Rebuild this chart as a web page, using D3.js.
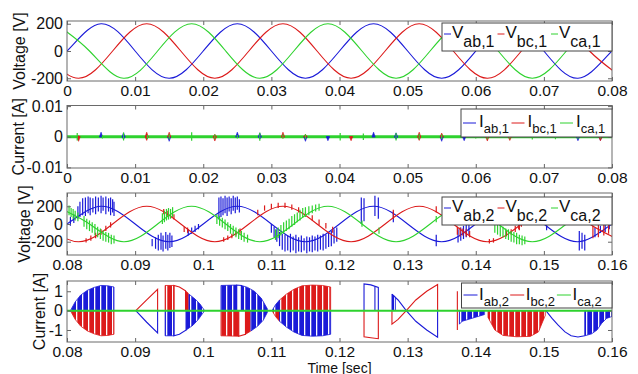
<!DOCTYPE html>
<html>
<head>
<meta charset="utf-8">
<script src="https://cdn.jsdelivr.net/npm/d3@7"></script>
<style>
  body { margin: 0; background: #fff; }
</style>
</head>
<body>
<div id="chart"></div>
<script>
// ---- ticks ----
const xTicksA = [0, 0.01, 0.02, 0.03, 0.04, 0.05, 0.06, 0.07, 0.08];
const xLabelsA = ["0", "0.01", "0.02", "0.03", "0.04", "0.05", "0.06", "0.07", "0.08"];
const xTicksB = [0.08, 0.09, 0.1, 0.11, 0.12, 0.13, 0.14, 0.15, 0.16];
const xLabelsB = ["0.08", "0.09", "0.1", "0.11", "0.12", "0.13", "0.14", "0.15", "0.16"];
const vTicks = [-200, 0, 200];
const vLabels = ["-200", "0", "200"];
const iTicks1 = [-0.01, 0, 0.01];
const iLabels1 = ["-0.01", "0", "0.01"];
const iTicks2 = [-1, 0, 1];
const iLabels2 = ["-1", "0", "1"];

// ---- panel 1 : line voltages (peaks and zero crossings) ----
const vab1 = [[-0.005,-200],[0,0],[0.005,200],[0.01,0],[0.015,-200],[0.02,0],[0.025,200],[0.03,0],[0.035,-200],[0.04,0],[0.045,200],[0.05,0],[0.055,-200],[0.06,0],[0.065,200],[0.07,0],[0.075,-200],[0.08,0],[0.085,200]];
const vbc1 = [[-0.0033,0],[0.0017,-200],[0.0067,0],[0.0117,200],[0.0167,0],[0.0217,-200],[0.0267,0],[0.0317,200],[0.0367,0],[0.0417,-200],[0.0467,0],[0.0517,200],[0.0567,0],[0.0617,-200],[0.0667,0],[0.0717,200],[0.0767,0],[0.0817,-200]];
const vca1 = [[-0.0017,200],[0.0033,0],[0.0083,-200],[0.0133,0],[0.0183,200],[0.0233,0],[0.0283,-200],[0.0333,0],[0.0383,200],[0.0433,0],[0.0483,-200],[0.0533,0],[0.0583,200],[0.0633,0],[0.0683,-200],[0.0733,0],[0.0783,200],[0.0833,0]];

// ---- panel 2 : currents, spikes [t, high, low] ----
const iab1Spikes = [[0.005,0.0015,0],[0.0083,0.0013,-0.0008],[0.015,0,-0.0015],[0.025,0.0015,0],[0.0283,0.0013,-0.0008],[0.035,0,-0.0015],[0.0383,0,-0.0013],[0.045,0.0015,0],[0.0483,0.0013,-0.0008],[0.055,0,-0.0015],[0.0583,0,-0.0013],[0.075,0,-0.0013],[0.0783,0,-0.0012]];
const ibc1Spikes = [[0.0017,0.0003,-0.0015],[0.0117,0.0015,-0.0012],[0.015,0.0015,0],[0.0217,0.0008,-0.0014],[0.0317,0.0015,-0.0005],[0.035,0.0008,0],[0.0417,0,-0.0013],[0.0517,0.0015,-0.0012],[0.055,0.0012,0],[0.0617,0,-0.0014],[0.065,0,-0.0012],[0.0783,0,-0.0013]];
const ica1Spikes = [[0.0015,0.0012,-0.0012],[0.0052,0.0006,-0.0006],[0.0083,0.0014,-0.0012],[0.0118,0.0006,-0.0007],[0.015,0.0008,-0.0008],[0.0183,0.0015,-0.0013],[0.0217,0.0007,-0.0007],[0.025,0.0006,-0.0006],[0.0283,0.0013,-0.0013],[0.0317,0.0007,-0.0006],[0.035,0.0008,-0.0008],[0.0401,0.0012,-0.0012],[0.0435,0.0011,-0.0011],[0.0483,0.0012,-0.0012],[0.0517,0.0009,-0.0009],[0.055,0.0007,-0.0007],[0.06,0.0006,-0.0006],[0.0617,0.0008,-0.0008],[0.065,0.0007,-0.0007],[0.0683,0.0009,-0.0009],[0.0717,0.0008,-0.0008],[0.075,0.0007,-0.0007],[0.0783,0.0006,-0.0006]];
const ica1 = [[0, 0], [0.08, 0]];

// ---- panel 3 : line voltages with switching spikes [t, low, high] ----
const vab2 = [[0.075,-200],[0.08,0],[0.085,200],[0.09,0],[0.095,-200],[0.1,0],[0.105,200],[0.11,0],[0.115,-200],[0.12,0],[0.125,200],[0.13,0],[0.135,-200],[0.14,0],[0.145,200],[0.15,0],[0.155,-200],[0.16,0],[0.165,200]];
const vbc2 = [[0.0767,0],[0.0817,-200],[0.0867,0],[0.0917,200],[0.0967,0],[0.1017,-200],[0.1067,0],[0.1117,200],[0.1167,0],[0.1217,-200],[0.1267,0],[0.1317,200],[0.1367,0],[0.1417,-200],[0.1467,0],[0.1517,200],[0.1567,0],[0.1617,-200]];
const vca2 = [[0.0783,200],[0.0833,0],[0.0883,-200],[0.0933,0],[0.0983,200],[0.1033,0],[0.1083,-200],[0.1133,0],[0.1183,200],[0.1233,0],[0.1283,-200],[0.1333,0],[0.1383,200],[0.1433,0],[0.1483,-200],[0.1533,0],[0.1583,200],[0.1633,0]];
const vab2Spikes = [
  [0.0805,-20,80],[0.081,10,110],[0.0816,60,200],[0.0819,80,250],[0.0823,100,290],[0.0827,90,300],[0.0831,120,310],[0.0834,100,300],[0.0838,130,290],[0.0842,110,310],[0.0846,140,300],[0.085,120,320],[0.0853,150,300],[0.0857,110,310],[0.0861,140,290],[0.0864,100,300],[0.0867,130,280],[0.0869,90,250],
  [0.0925,-250,-170],[0.093,-280,-150],[0.0934,-300,-120],[0.0938,-290,-100],[0.0941,-310,-130],[0.0945,-280,-90],[0.0948,-300,-120],[0.0951,-270,-100],[0.0954,-260,-130],
  [0.0978,-130,-60],[0.0983,-110,-40],[0.0988,-90,-20],[0.0993,-60,0],
  [0.1023,50,300],[0.1026,80,310],[0.1029,100,290],[0.1032,120,320],[0.1035,90,300],[0.1038,140,310],[0.1041,110,290],[0.1044,150,320],[0.1047,120,300],[0.105,160,310],[0.1053,130,280],
  [0.11,-100,0],[0.1104,-150,-30],[0.1108,-200,-60],[0.1112,-250,-90],[0.1116,-290,-110],[0.112,-310,-120],[0.1124,-300,-130],[0.1128,-320,-110],[0.1132,-300,-140],[0.1136,-330,-120],[0.114,-310,-150],[0.1144,-320,-130],[0.1148,-300,-160],[0.1152,-330,-140],[0.1156,-310,-150],[0.116,-320,-130],[0.1164,-300,-140],[0.1168,-310,-120],[0.1172,-290,-130],[0.1176,-300,-110],[0.118,-280,-120],[0.1184,-260,-100],[0.1188,-250,-80],[0.1192,-220,-60],[0.1196,-200,-40],
  [0.1232,0,300],[0.1236,30,290],[0.1252,90,320],[0.1257,60,300],[0.1279,20,140],[0.1342,-250,-120],
  [0.1374,-210,-60],[0.1378,-190,-40],[0.1382,-170,-20],[0.1386,-150,0],[0.139,-120,10],
  [0.1504,-70,20],[0.1552,-300,-80],[0.1556,-280,-100],[0.156,-300,-120],[0.1575,-150,-40],[0.1583,-100,-20],[0.159,-90,10],[0.1596,-60,20]
];
const vbc2Spikes = [
  [0.0828,-210,-160],[0.0835,-190,-130],[0.0842,-160,-100],[0.085,-120,-60],[0.0857,-80,-20],[0.0864,-40,20],
  [0.0942,110,170],[0.0947,90,150],[0.0952,70,130],[0.0957,50,110],[0.0972,-90,-30],[0.0977,-100,-40],
  [0.103,-200,-150],[0.1036,-180,-130],[0.1042,-160,-110],[0.1048,-130,-80],[0.1054,-110,-50],
  [0.108,100,160],[0.109,150,210],[0.11,170,230],[0.111,180,240],[0.112,180,240],[0.113,160,220],[0.114,130,190],[0.115,80,140],[0.116,40,100],[0.117,-10,50],[0.118,-50,10],[0.119,-100,-30],
  [0.1279,60,160],[0.1342,130,200],
  [0.1373,-120,-30],[0.1377,-140,-40],[0.1381,-130,-50],[0.1386,-140,-60],[0.1391,-150,-80],[0.142,-220,-170],[0.1426,-210,-160],
  [0.1445,-140,-80],[0.1452,-120,-60],[0.1458,-90,-20],[0.1463,-60,20],[0.1464,-70,110],[0.1467,-30,50],
  [0.1572,-160,-20],[0.158,-150,0],[0.1588,-130,10],[0.1595,-110,20]
];
const vca2Spikes = [
  [0.0803,100,210],[0.0806,80,180],[0.0809,60,170],[0.0812,40,150],[0.0816,30,130],
  [0.0825,-30,90],[0.0829,-60,60],[0.0833,-80,40],[0.0837,-100,20],[0.0841,-130,0],[0.0845,-150,-30],[0.0849,-170,-50],[0.0853,-190,-70],[0.0857,-200,-90],[0.0861,-210,-100],[0.0865,-230,-120],[0.0869,-220,-130],
  [0.094,0,120],[0.0943,20,150],[0.0946,40,170],[0.0949,50,180],[0.0952,60,170],[0.0955,80,190],
  [0.102,0,110],[0.1024,-20,90],[0.1028,-40,70],[0.1032,-60,50],[0.1036,-80,20],[0.104,-110,0],[0.1044,-130,-20],[0.1048,-150,-40],[0.1052,-170,-60],[0.1056,-180,-80],[0.106,-200,-100],[0.1065,-210,-120],
  [0.1106,-180,-60],[0.111,-160,-40],[0.1114,-130,-10],[0.1118,-110,20],[0.1122,-80,40],[0.1126,-60,60],[0.113,-30,90],[0.1134,-10,110],[0.1138,20,130],[0.1142,40,160],[0.1146,70,180],[0.115,80,190],[0.1155,100,200],[0.116,120,210],[0.1165,140,220],[0.117,150,230],
  [0.1233,-30,40],[0.1258,-110,-40],[0.1342,20,90],
  [0.1428,-100,10],[0.1432,-120,-10],[0.1436,-140,-20],[0.144,-150,-30],[0.1444,-170,-50],[0.1448,-180,-60],[0.1452,-200,-80],[0.1456,-210,-90],[0.146,-230,-100],[0.1464,-230,-120],[0.1468,-240,-130],[0.1472,-230,-140]
];

// ---- panel 4 : currents, switching envelopes [t, i] ----
const iab2Fill = [
  [[0.0805,0],[0.0812,0.45],[0.082,0.8],[0.083,1.05],[0.084,1.2],[0.085,1.3],[0.086,1.28],[0.0869,1.22],[0.0869,0]],
  [[0.0944,0],[0.0944,-1.3],[0.0957,-1.3],[0.0957,0]],
  [[0.0975,0],[0.0975,-1.0],[0.0985,-0.75],[0.0993,-0.45],[0.1001,-0.05],[0.1001,0]],
  [[0.0979,0],[0.0979,0.85],[0.0988,0.6],[0.0995,0.35],[0.1001,0.05],[0.1001,0]],
  [[0.1026,0],[0.1026,1.3],[0.1049,1.32],[0.1049,0]],
  [[0.1056,0],[0.1056,1.3],[0.1065,1.2],[0.1075,1.0],[0.1085,0.65],[0.1094,0.1],[0.1094,0]],
  [[0.107,0],[0.107,-1.05],[0.108,-0.8],[0.1088,-0.5],[0.1094,-0.1],[0.1094,0]],
  [[0.1101,0],[0.1106,0.3],[0.1112,0.55],[0.1112,0]],
  [[0.1112,0],[0.1112,-0.55],[0.1122,-0.85],[0.1133,-1.1],[0.1145,-1.28],[0.116,-1.32],[0.1175,-1.3],[0.1187,-1.22],[0.1187,0]],
  [[0.1277,0],[0.1277,0.85],[0.1282,0.7],[0.1282,0]],
  [[0.1376,0],[0.1376,-0.7],[0.138,-0.55],[0.1413,-0.2],[0.1413,0]],
  [[0.156,0],[0.156,-1.3],[0.157,-1.2],[0.1578,-1.0],[0.1585,-0.65],[0.1592,-0.4],[0.16,-0.3],[0.16,0]]
];
const ibc2Fill = [
  [[0.0805,0],[0.0812,-0.45],[0.082,-0.8],[0.083,-1.05],[0.084,-1.2],[0.085,-1.3],[0.086,-1.28],[0.0869,-1.22],[0.0869,0]],
  [[0.0944,0],[0.0944,1.3],[0.0957,1.3],[0.0957,0]],
  [[0.0974,0],[0.0974,1.02],[0.0978,0.9],[0.0978,0]],
  [[0.1026,0],[0.1026,-1.3],[0.1052,-1.32],[0.1052,0]],
  [[0.1062,0],[0.1062,-1.22],[0.107,-1.05],[0.107,0]],
  [[0.1112,0],[0.1112,0.55],[0.1122,0.85],[0.1133,1.1],[0.1145,1.28],[0.116,1.32],[0.1175,1.3],[0.1187,1.22],[0.1187,0]],
  [[0.1101,0],[0.1106,-0.3],[0.1112,-0.55],[0.1112,0]],
  [[0.1418,0],[0.1418,-0.35],[0.1428,-1.0],[0.144,-1.28],[0.146,-1.35],[0.148,-1.33],[0.1492,-1.1],[0.1502,-0.25],[0.1502,0]]
];
const iab2Lines = [
  [[0.0901,0],[0.0917,-0.6],[0.0933,-1.15],[0.0933,0]],
  [[0.0957,0],[0.0957,-1.3],[0.0965,-1.22],[0.0975,-1.0],[0.0975,0]],
  [[0.1049,0],[0.1049,1.32],[0.1056,1.3],[0.1056,0]],
  [[0.1236,0],[0.1236,1.38],[0.1246,1.33],[0.1257,1.2],[0.1257,0]],
  [[0.1252,0],[0.1252,1.25]],
  [[0.1277,0.85],[0.1286,0.55],[0.1298,0],[0.1312,-0.55],[0.1328,-1.0],[0.1344,-1.37],[0.1344,0]],
  [[0.1503,0],[0.1512,-0.4],[0.1521,-0.75],[0.1531,-1.1],[0.154,-1.3],[0.155,-1.36],[0.156,-1.3]]
];
const ibc2Lines = [
  [[0.0901,0],[0.0917,0.55],[0.0933,1.1],[0.0933,0]],
  [[0.0957,0],[0.0957,1.3],[0.0965,1.22],[0.0974,1.02],[0.0974,0]],
  [[0.1052,0],[0.1052,-1.32],[0.1062,-1.22],[0.1062,0]],
  [[0.1236,0],[0.1236,-1.35],[0.1246,-1.4],[0.1257,-1.45],[0.1257,0]],
  [[0.1277,0],[0.1277,-0.7],[0.1286,-0.45],[0.1298,0],[0.1312,0.55],[0.1328,1.0],[0.1344,1.35],[0.1344,0]],
  [[0.1373,1.0],[0.1373,-1.0]]
];
const ica2 = [[0.08, 0], [0.16, 0]];

const legendV1 = ["ab,1", "bc,1", "ca,1"];
const legendI1 = ["ab,1", "bc,1", "ca,1"];
const legendV2 = ["ab,2", "bc,2", "ca,2"];
const legendI2 = ["ab,2", "bc,2", "ca,2"];

// ---- drawing ----
const colors = ["#1a1ad8", "#dc1a1a", "#2ed22e"];
const font = "'Liberation Sans', Arial, sans-serif";
const W = 638, H = 374, L = 67, R = 612;

const svg = d3.select("#chart").append("svg")
  .attr("width", W)
  .attr("height", H)
  .style("font-family", font);
const defs = svg.append("defs");

// striped fill, like densely switched current traces
[["stripeB", colors[0]], ["stripeR", colors[1]]].forEach(function (s) {
  const pat = defs.append("pattern").attr("id", s[0])
    .attr("patternUnits", "userSpaceOnUse").attr("width", 6).attr("height", 6);
  pat.append("rect").attr("width", 6).attr("height", 6).attr("fill", s[1]);
  pat.append("rect").attr("x", 4).attr("width", 1.3).attr("height", 6).attr("fill", "#fff");
});

function panel(id, top, bottom, xDomain, yDomain) {
  const x = d3.scaleLinear().domain(xDomain).range([L, R]);
  const y = d3.scaleLinear().domain(yDomain).range([bottom, top]);
  defs.append("clipPath").attr("id", id).append("rect")
    .attr("x", L).attr("y", top).attr("width", R - L).attr("height", bottom - top);
  const plot = svg.append("g").attr("clip-path", "url(#" + id + ")");
  return { x: x, y: y, top: top, bottom: bottom, plot: plot };
}

function axes(p, xTicks, xLabels, yTicks, yLabels, ylab, labX) {
  const g = svg.append("g");
  const xb = g.append("g").attr("transform", "translate(0," + p.bottom + ")")
    .call(d3.axisBottom(p.x).tickValues(xTicks).tickFormat((d, i) => xLabels[i]).tickSize(-4).tickPadding(3.5));
  g.append("g").attr("transform", "translate(0," + p.top + ")")
    .call(d3.axisTop(p.x).tickValues(xTicks).tickFormat("").tickSize(-4));
  g.append("g").attr("transform", "translate(" + L + ",0)")
    .call(d3.axisLeft(p.y).tickValues(yTicks).tickFormat((d, i) => yLabels[i]).tickSize(-4).tickPadding(4));
  g.append("g").attr("transform", "translate(" + R + ",0)")
    .call(d3.axisRight(p.y).tickValues(yTicks).tickFormat("").tickSize(-4));
  g.selectAll(".domain").remove();
  g.selectAll(".tick line").attr("stroke", "#666");
  g.selectAll(".tick text").attr("fill", "#111").style("font-size", "16px").style("font-family", font);
  xb.selectAll(".tick text").style("font-size", "15.5px");
  g.append("rect")
    .attr("x", L).attr("y", p.top)
    .attr("width", R - L).attr("height", p.bottom - p.top)
    .attr("fill", "none").attr("stroke", "#6a6a6a");
  svg.append("text")
    .attr("transform", "translate(" + labX + "," + (p.top + p.bottom) / 2 + ") rotate(-90)")
    .attr("text-anchor", "middle")
    .style("font-size", "16px")
    .attr("fill", "#111")
    .text(ylab);
}

function legend(labels, main, c) {
  const g = svg.append("g");
  g.append("rect").attr("x", c.x).attr("y", c.y).attr("width", c.w).attr("height", c.h)
    .attr("fill", "#fff").attr("stroke", "#444");
  labels.forEach(function (lab, i) {
    const x0 = c.x + 2 + i * c.itemW;
    g.append("line").attr("x1", x0).attr("x2", x0 + c.lineLen)
      .attr("y1", c.y + c.lineY).attr("y2", c.y + c.lineY)
      .attr("stroke", colors[i]).attr("stroke-width", 1);
    const t = g.append("text").attr("x", x0 + c.lineLen + c.gap).attr("y", c.y + c.mainBase)
      .attr("fill", "#111").style("font-size", c.mainSize + "px").text(main);
    t.append("tspan").attr("dy", c.subBase - c.mainBase)
      .style("font-size", c.subSize + "px").text(lab);
  });
}

const sineLine = (p) => d3.line().x(d => p.x(d[0])).y(d => p.y(d[1])).curve(d3.curveNatural);
const polyLine = (p) => d3.line().x(d => p.x(d[0])).y(d => p.y(d[1]));

function drawSpikes(p, data, color) {
  p.plot.append("g").selectAll("line").data(data).join("line")
    .attr("x1", d => p.x(d[0])).attr("x2", d => p.x(d[0]))
    .attr("y1", d => p.y(d[1])).attr("y2", d => p.y(d[2]))
    .attr("stroke", color).attr("stroke-width", 1.2);
}

// panel 1
const p1 = panel("c1", 21, 81, [0, 0.08], [-220, 220]);
[vab1, vbc1, vca1].forEach(function (s, i) {
  p1.plot.append("path").attr("d", sineLine(p1)(s))
    .attr("fill", "none").attr("stroke", colors[i]).attr("stroke-width", 1.1);
});
axes(p1, xTicksA, xLabelsA, vTicks, vLabels, "Voltage [V]", 25);

// panel 2
const p2 = panel("c2", 105.5, 168, [0, 0.08], [-0.0102, 0.0102]);
p2.plot.append("path").attr("d", polyLine(p2)(ica1))
  .attr("fill", "none").attr("stroke", colors[2]).attr("stroke-width", 3);
[iab1Spikes, ibc1Spikes].forEach(function (s, i) {
  p2.plot.append("g").selectAll("path").data(s).join("path")
    .attr("d", function (d) {
      const x = p2.x(d[0]), y0 = p2.y(0);
      return "M" + (x - 1.6) + "," + y0 + "L" + x + "," + p2.y(d[1]) + "L" + (x + 1.6) + "," + y0 + "Z" +
        "M" + (x - 1.6) + "," + y0 + "L" + x + "," + p2.y(d[2]) + "L" + (x + 1.6) + "," + y0 + "Z";
    })
    .attr("fill", colors[i]).attr("stroke", colors[i]).attr("stroke-width", 0.6);
});
drawSpikes(p2, ica1Spikes.map(d => [d[0], d[2], d[1]]), colors[2]);
axes(p2, xTicksA, xLabelsA, iTicks1, iLabels1, "Current [A]", 23.5);

// panel 3
const p3 = panel("c3", 193, 255, [0.08, 0.16], [-350, 350]);
[[vab2, vab2Spikes], [vbc2, vbc2Spikes], [vca2, vca2Spikes]].forEach(function (s, i) {
  p3.plot.append("path").attr("d", sineLine(p3)(s[0]))
    .attr("fill", "none").attr("stroke", colors[i]).attr("stroke-width", 1.1);
  drawSpikes(p3, s[1], colors[i]);
});
axes(p3, xTicksB, xLabelsB, vTicks, vLabels, "Voltage [V]", 30);

// panel 4
const p4 = panel("c4", 281, 342, [0.08, 0.16], [-1.62, 1.53]);
const lp4 = polyLine(p4);
[[ibc2Fill, "stripeR", colors[1]], [iab2Fill, "stripeB", colors[0]]].forEach(function (s) {
  p4.plot.append("g").selectAll("path").data(s[0]).join("path")
    .attr("d", d => lp4(d) + "Z")
    .attr("fill", "url(#" + s[1] + ")")
    .attr("stroke", s[2]).attr("stroke-width", 0.8);
});
[[iab2Lines, colors[0]], [ibc2Lines, colors[1]]].forEach(function (s) {
  p4.plot.append("g").selectAll("path").data(s[0]).join("path")
    .attr("d", d => lp4(d))
    .attr("fill", "none").attr("stroke", s[1]).attr("stroke-width", 1.1);
});
p4.plot.append("path").attr("d", lp4(ica2))
  .attr("fill", "none").attr("stroke", colors[2]).attr("stroke-width", 2);
axes(p4, xTicksB, xLabelsB, iTicks2, iLabels2, "Current [A]", 44.5);

svg.append("text").attr("x", (L + R) / 2).attr("y", 372.5)
  .attr("text-anchor", "middle").style("font-size", "14px").attr("fill", "#111")
  .text("Time [sec]");

// legends
const vLeg = { w: 170, h: 28, itemW: 53.5, lineLen: 7, gap: 1, mainSize: 17, subSize: 16, mainBase: 14.5, subBase: 24, lineY: 11 };
legend(legendV1, "V", Object.assign({ x: 442, y: 23 }, vLeg));
legend(legendI1, "I", { x: 461, y: 109, w: 151, h: 28, itemW: 48.5, lineLen: 13, gap: 3, mainSize: 17, subSize: 13, mainBase: 18, subBase: 24, lineY: 14 });
legend(legendV2, "V", Object.assign({ x: 442, y: 197 }, vLeg));
legend(legendI2, "I", { x: 461.5, y: 283, w: 150.5, h: 25, itemW: 46.7, lineLen: 14, gap: 1.5, mainSize: 17, subSize: 13, mainBase: 16.5, subBase: 23, lineY: 12 });
</script>
</body>
</html>
